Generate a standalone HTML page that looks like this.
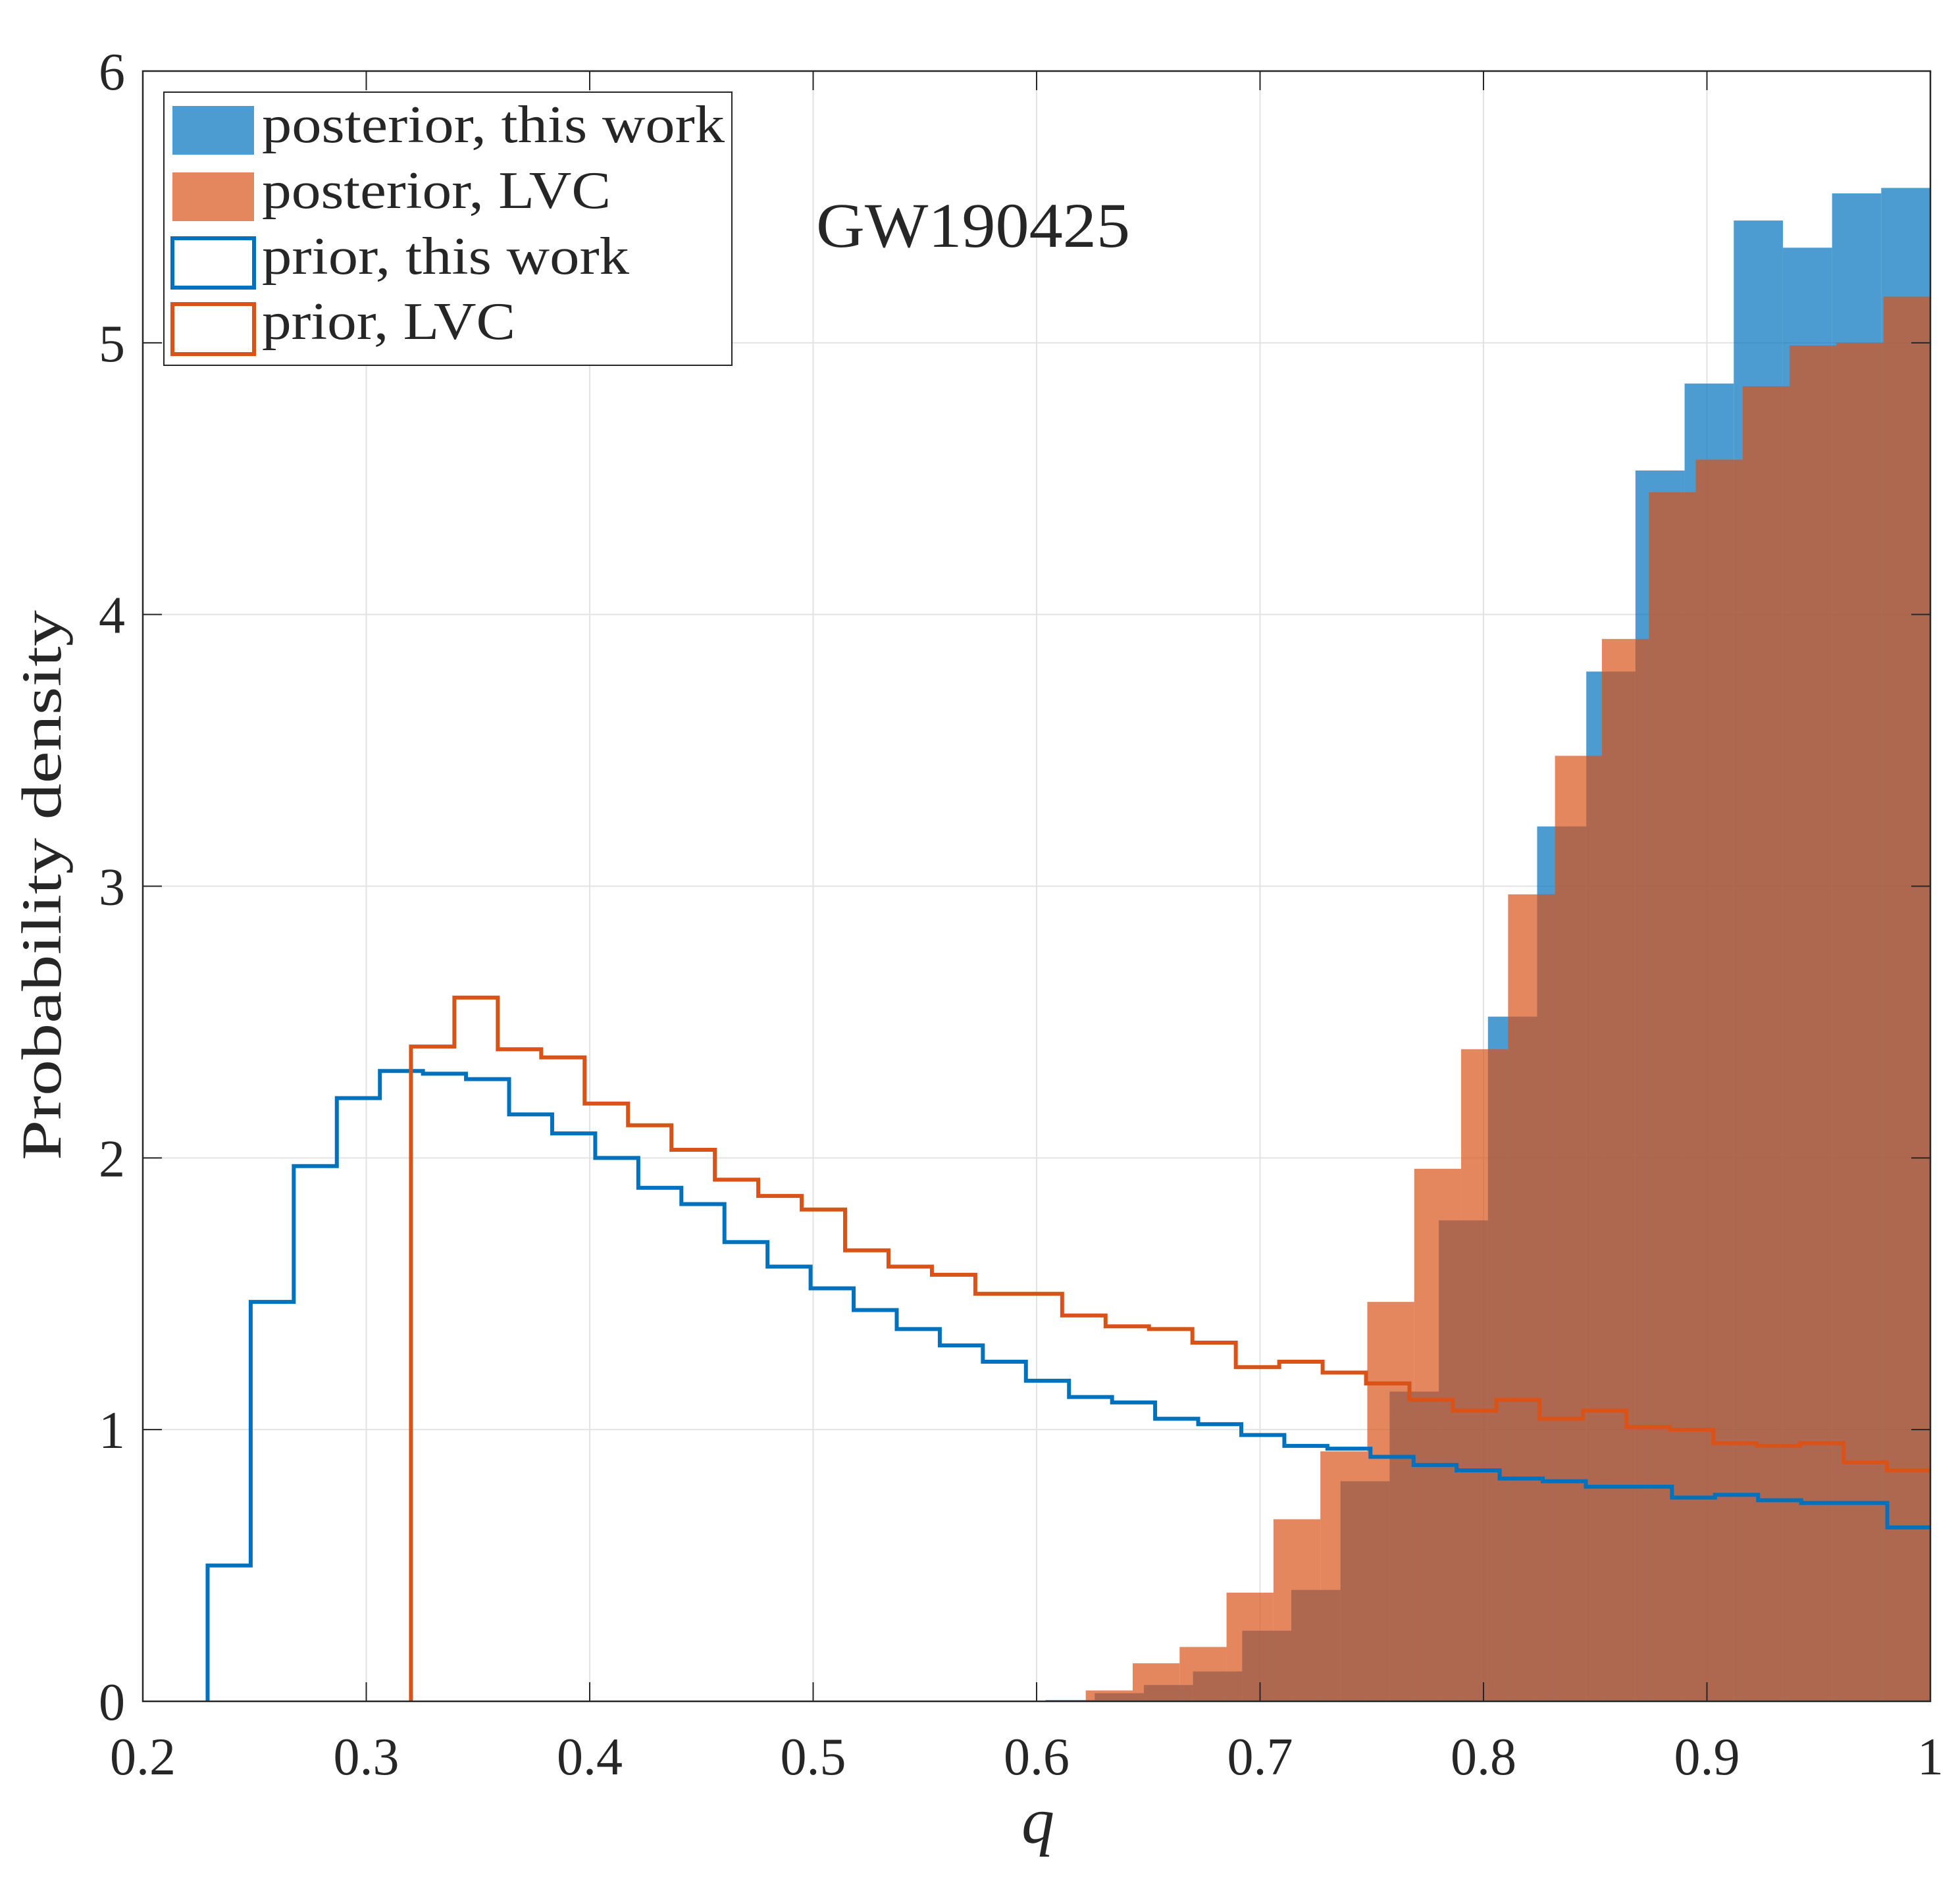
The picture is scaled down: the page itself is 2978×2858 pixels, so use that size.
<!DOCTYPE html>
<html><head><meta charset="utf-8"><style>
html,body{margin:0;padding:0;background:#fff;}
svg text{font-family:"Liberation Serif",serif;fill:#262626;}
</style></head><body>
<svg id="chart" width="2978" height="2853" viewBox="0 0 2978 2853" xmlns="http://www.w3.org/2000/svg">
<rect width="2978" height="2853" fill="#fff"/>
<g id="grid"></g>
<g id="bars"></g>
<g id="lines"></g>
<g id="axes"></g>
<text x="1240" y="375" font-size="96" textLength="477" lengthAdjust="spacingAndGlyphs">GW190425</text>
<text x="1577" y="2800" font-size="100" font-style="italic" text-anchor="middle">q</text>
<text transform="translate(92,1345) rotate(-90)" font-size="86" text-anchor="middle" textLength="836" lengthAdjust="spacingAndGlyphs">Probability density</text>
<g>
<rect x="249" y="140" width="863" height="415" fill="#fff" stroke="#262626" stroke-width="2"/>
<rect x="262" y="161" width="124" height="74" fill="rgb(77,156,209)"/>
<text x="398" y="216" font-size="80" textLength="703" lengthAdjust="spacingAndGlyphs">posterior, this work</text>
<rect x="262" y="262" width="124" height="74" fill="rgb(228,134,94)"/>
<text x="398" y="316" font-size="80" textLength="530" lengthAdjust="spacingAndGlyphs">posterior, LVC</text>
<rect x="262" y="362" width="124" height="75" fill="none" stroke="#0072bd" stroke-width="6"/>
<text x="398" y="416" font-size="80" textLength="558" lengthAdjust="spacingAndGlyphs">prior, this work</text>
<rect x="262" y="462" width="124" height="76" fill="none" stroke="#d95319" stroke-width="6"/>
<text x="398" y="515" font-size="80" textLength="385" lengthAdjust="spacingAndGlyphs">prior, LVC</text>
</g>
</svg>
<script>
const xTicks=[0.2,0.3,0.4,0.5,0.6,0.7,0.8,0.9,1];
const xTickLabels=["0.2","0.3","0.4","0.5","0.6","0.7","0.8","0.9","1"];
const yTicks=[0,1,2,3,4,5,6];
const yTickLabels=["0","1","2","3","4","5","6"];
const priorThisStart=0.229, priorThisWidth=0.019275;
const priorThis=[0.50,1.47,1.97,2.22,2.32,2.31,2.29,2.16,2.09,2.00,1.89,1.83,1.69,1.60,1.52,1.44,1.37,1.31,1.25,1.18,1.12,1.10,1.04,1.02,0.98,0.94,0.93,0.90,0.87,0.85,0.82,0.81,0.79,0.79,0.75,0.76,0.74,0.73,0.73,0.64];
const priorLvcStart=0.32, priorLvcWidth=0.019429;
const priorLvc=[2.41,2.59,2.40,2.37,2.20,2.12,2.03,1.92,1.86,1.81,1.66,1.60,1.57,1.50,1.50,1.42,1.38,1.37,1.32,1.23,1.25,1.21,1.17,1.11,1.07,1.11,1.04,1.07,1.01,1.00,0.95,0.94,0.95,0.88,0.85];
const postThisStart=0.604, postThisWidth=0.022;
const postThis=[0.005,0.03,0.06,0.11,0.26,0.41,0.81,1.14,1.77,2.52,3.22,3.79,4.53,4.85,5.45,5.35,5.55,5.57];
const postLvcStart=0.622, postLvcWidth=0.021;
const postLvc=[0.04,0.14,0.20,0.40,0.67,0.92,1.47,1.96,2.40,2.97,3.48,3.91,4.45,4.57,4.84,4.99,5.00,5.17];

const L=217,R=2933,T=108,B=2585;
const X=v=>L+(v-0.2)/0.8*(R-L);
const Y=v=>B-v/6*(B-T);
const NS="http://www.w3.org/2000/svg";
function mk(tag,attrs,parent){const e=document.createElementNS(NS,tag);for(const k in attrs)e.setAttribute(k,attrs[k]);parent.appendChild(e);return e;}
const grid=document.getElementById('grid'),bars=document.getElementById('bars'),lines=document.getElementById('lines'),axes=document.getElementById('axes');
xTicks.forEach(t=>{const g=mk('line',{x1:X(t),x2:X(t),y1:T,y2:B,stroke:'#e3e3e3','stroke-width':2},grid);});
yTicks.forEach(t=>{const g=mk('line',{x1:L,x2:R,y1:Y(t),y2:Y(t),stroke:'#e3e3e3','stroke-width':2},grid);});
function drawBars(start,w,vals,color,name){
  vals.forEach((v,i)=>{const x0=X(start+i*w),x1=X(start+(i+1)*w);
    const r=mk('rect',{x:x0,y:Y(v),width:Math.max(0,Math.min(x1,R)-x0),height:Y(0)-Y(v),fill:color,'fill-opacity':0.7},bars);
    
    });
}
drawBars(postThisStart,postThisWidth,postThis,'#0072bd','posterior-this-work-bar');
drawBars(postLvcStart,postLvcWidth,postLvc,'#d95319','posterior-lvc-bar');
function drawStep(start,w,vals,color,name){
  let d='M'+X(start)+' '+Y(0);
  vals.forEach((v,i)=>{d+=' L'+X(start+i*w)+' '+Y(v)+' L'+Math.min(X(start+(i+1)*w),R)+' '+Y(v);});
  const p=mk('path',{d:d,fill:'none',stroke:color,'stroke-width':6},lines);
  
  
}
drawStep(priorThisStart,priorThisWidth,priorThis,'#0072bd','prior-this-work-line');
drawStep(priorLvcStart,priorLvcWidth,priorLvc,'#d95319','prior-lvc-line');
const box=mk('rect',{x:L,y:T,width:R-L,height:B-T,fill:'none',stroke:'#262626','stroke-width':2.5},axes);


xTicks.forEach((t,i)=>{
  mk('line',{x1:X(t),x2:X(t),y1:B,y2:B-29,stroke:'#262626','stroke-width':2},axes);
  mk('line',{x1:X(t),x2:X(t),y1:T,y2:T+29,stroke:'#262626','stroke-width':2},axes);
  const tx=mk('text',{x:X(t),y:2696,'font-size':80,'text-anchor':'middle'},axes);tx.textContent=xTickLabels[i];
  
  
});
yTicks.forEach((t,i)=>{
  mk('line',{x1:L,x2:L+29,y1:Y(t),y2:Y(t),stroke:'#262626','stroke-width':2},axes);
  mk('line',{x1:R,x2:R-29,y1:Y(t),y2:Y(t),stroke:'#262626','stroke-width':2},axes);
  const tx=mk('text',{x:190,y:Y(t)+28,'font-size':80,'text-anchor':'end'},axes);tx.textContent=yTickLabels[i];
  
  
});
</script>
</body></html>
